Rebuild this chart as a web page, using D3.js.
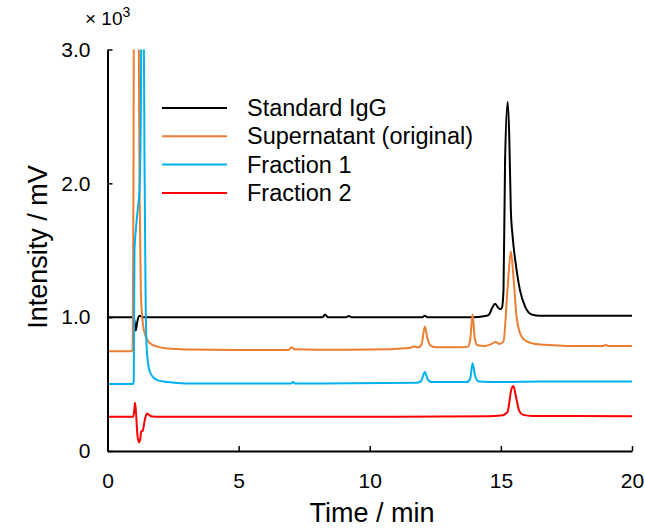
<!DOCTYPE html>
<html>
<head>
<meta charset="utf-8">
<script src="https://cdn.jsdelivr.net/npm/d3@7"></script>
<style>
  body { margin: 0; background: #fff; }
  svg { display: block; font-family: "Liberation Sans", Arial, sans-serif; }
</style>
</head>
<body>
<svg id="chart"></svg>
<script>
const width = 645;
const height = 531;
const plotLeft = 107.5, plotRight = 632, plotTop = 49.5, plotBottom = 451;

// retention time (min) and intensity (x 10^3 mV)
const igg = [
  [0, 1.0], [0.95, 1.0], [1.02, 0.98], [1.08, 0.9], [1.14, 0.97], [1.22, 1.01], [1.35, 1.0],
  [3, 1.0], [8.2, 1.0], [8.3, 1.02], [8.4, 1.0], [9.1, 1.0], [9.2, 1.008], [9.3, 1.0],
  [12.0, 1.0], [12.1, 1.01], [12.2, 1.0], [14.0, 1.0], [14.45, 1.01], [14.55, 1.02],
  [14.67, 1.07], [14.78, 1.10], [14.9, 1.07], [14.98, 1.06], [15.04, 1.07], [15.10, 1.2],
  [15.16, 2.17], [15.26, 2.61], [15.32, 2.35], [15.38, 1.8], [15.45, 1.6], [15.58, 1.38],
  [15.73, 1.2], [15.92, 1.08], [16.17, 1.02], [16.5, 1.01], [20, 1.01]
];
const supernatant = [
  [0, 0.745], [0.9, 0.745], [0.96, 0.76], [0.99, 2.0], [1.01, 3.5], [1.18, 3.5], [1.22, 2.0],
  [1.27, 1.2], [1.35, 0.95], [1.45, 0.86], [1.55, 0.82], [1.7, 0.795], [1.9, 0.78], [2.3, 0.765],
  [3, 0.758], [5, 0.755], [6.9, 0.755], [7.02, 0.775], [7.12, 0.76], [8, 0.757], [10, 0.758],
  [11.5, 0.77], [11.7, 0.78], [11.85, 0.775], [11.98, 0.8], [12.1, 0.93], [12.2, 0.84],
  [12.3, 0.79], [12.5, 0.775], [13.5, 0.775], [13.75, 0.78], [13.83, 0.83], [13.92, 1.02],
  [14.0, 0.85], [14.1, 0.79], [14.4, 0.785], [14.65, 0.8], [14.8, 0.815], [14.95, 0.8],
  [15.1, 0.82], [15.25, 1.2], [15.38, 1.49], [15.48, 1.3], [15.6, 1.0], [15.73, 0.88],
  [15.9, 0.83], [16.1, 0.81], [16.5, 0.795], [17, 0.79], [17.5, 0.785], [18.9, 0.785],
  [19.0, 0.792], [19.1, 0.785], [20, 0.785]
];
const fraction1 = [
  [0, 0.5], [0.97, 0.5], [1.0, 0.52], [1.03, 1.5], [1.08, 1.65], [1.15, 1.8], [1.22, 1.95],
  [1.27, 2.5], [1.3, 3.5], [1.37, 3.5], [1.41, 2.2], [1.45, 1.2], [1.5, 0.75], [1.6, 0.6],
  [1.75, 0.55], [1.9, 0.53], [2.3, 0.515], [3, 0.505], [7.0, 0.505], [7.07, 0.515],
  [7.15, 0.505], [11.8, 0.51], [11.95, 0.52], [12.1, 0.59], [12.2, 0.54], [12.35, 0.515],
  [13.7, 0.515], [13.83, 0.54], [13.92, 0.655], [14.02, 0.56], [14.15, 0.52], [15, 0.515],
  [16.5, 0.52], [20, 0.52]
];
const fraction2 = [
  [0, 0.255], [0.98, 0.255], [1.02, 0.3], [1.05, 0.36], [1.09, 0.28], [1.14, 0.12],
  [1.2, 0.065], [1.25, 0.09], [1.28, 0.145], [1.34, 0.15], [1.42, 0.23], [1.5, 0.28],
  [1.58, 0.27], [1.7, 0.258], [2.0, 0.255], [10, 0.255], [14.5, 0.26], [15.0, 0.265],
  [15.25, 0.29], [15.4, 0.46], [15.48, 0.486], [15.58, 0.4], [15.7, 0.3], [15.85, 0.27],
  [16.2, 0.262], [20, 0.26]
];

const seriesNames = ['Standard IgG', 'Supernatant (original)', 'Fraction 1', 'Fraction 2'];
const seriesData = [igg, supernatant, fraction1, fraction2];
const seriesColors = ['#000000', '#ED7D31', '#00B0F0', '#FF0000'];

const xTicks = [0, 5, 10, 15, 20];
const yTicks = [0, 1, 2, 3];

const svg = d3.select('#chart')
  .attr('width', width)
  .attr('height', height);

const x = d3.scaleLinear().domain([0, 20]).range([plotLeft, plotRight]);
const y = d3.scaleLinear().domain([0, 3]).range([plotBottom, plotTop]);

svg.append('clipPath').attr('id', 'plot-clip')
  .append('rect')
  .attr('x', plotLeft).attr('y', plotTop)
  .attr('width', plotRight - plotLeft).attr('height', plotBottom - plotTop);

const line = d3.line()
  .x(d => x(d[0]))
  .y(d => y(d[1]))
  .curve(d3.curveMonotoneX);

svg.append('g').attr('clip-path', 'url(#plot-clip)')
  .selectAll('path').data(seriesData).enter().append('path')
  .attr('d', line)
  .attr('fill', 'none')
  .attr('stroke', (d, i) => seriesColors[i])
  .attr('stroke-width', 2)
  .attr('stroke-linejoin', 'round');

const xAxis = svg.append('g')
  .attr('transform', `translate(0, ${plotBottom})`)
  .call(d3.axisBottom(x).tickValues(xTicks).tickSizeInner(-5).tickSizeOuter(0).tickPadding(22));

const yAxis = svg.append('g')
  .attr('transform', `translate(${plotLeft}, 0)`)
  .call(d3.axisLeft(y).tickValues(yTicks).tickSizeInner(-5).tickSizeOuter(0).tickPadding(17)
    .tickFormat(d => d === 0 ? '0' : d.toFixed(1)));

[xAxis, yAxis].forEach(a => {
  a.select('.domain').attr('stroke', '#000').attr('stroke-width', 2);
  a.selectAll('.tick line').attr('stroke', '#000').attr('stroke-width', 1.5);
  a.selectAll('.tick text').attr('font-size', 21).attr('fill', '#000')
    .attr('font-family', '"Liberation Sans", Arial, sans-serif');
});

// axis titles
svg.append('text')
  .attr('x', 372).attr('y', 522)
  .attr('text-anchor', 'middle').attr('font-size', 27)
  .text('Time / min');

svg.append('text')
  .attr('transform', `translate(47, 247) rotate(-90)`)
  .attr('text-anchor', 'middle').attr('font-size', 27)
  .text('Intensity / mV');

// multiplier label
const mult = svg.append('text').attr('x', 85).attr('y', 25).attr('font-size', 19);
mult.append('tspan').text('× 10');
mult.append('tspan').attr('dy', -8).attr('font-size', 14).text('3');

// legend
const legend = svg.append('g').selectAll('g').data(seriesNames).enter().append('g')
  .attr('transform', (d, i) => `translate(162, ${108 + i * 28.3})`);

legend.append('line')
  .attr('x1', 0).attr('x2', 65)
  .attr('stroke', (d, i) => seriesColors[i])
  .attr('stroke-width', 2);

legend.append('text')
  .attr('x', 85).attr('y', 8)
  .attr('font-size', 23.5)
  .text(d => d);
</script>
</body>
</html>
